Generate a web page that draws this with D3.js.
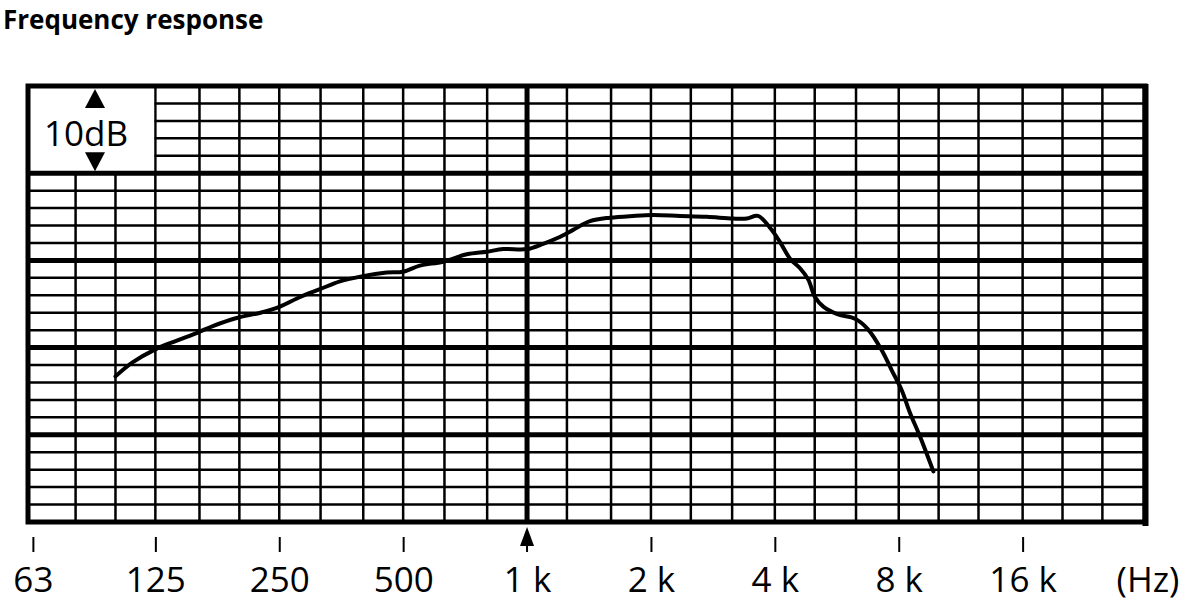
<!DOCTYPE html>
<html>
<head>
<meta charset="utf-8">
<script src="https://cdn.jsdelivr.net/npm/d3@7"></script>
<style>
  body { margin: 0; background: #fff; }
  svg { display: block; }
  text { font-family: "Open Sans", sans-serif; fill: #000; }
</style>
</head>
<body>
<div id="chart"></div>
<script>
// response curve (Hz / dB)
var freqs = [100, 110, 125, 141, 158, 173, 197, 225, 251, 281, 314, 351, 399, 456, 500,
  549, 625, 714, 798, 876, 1000, 1094, 1189, 1294, 1422, 1591, 1810, 2024, 2353, 2733,
  3166, 3418, 3641, 3915, 4118, 4355, 4606, 4824, 5008, 5246, 5696, 6264, 6737, 7275,
  7694, 8135, 8522, 9012, 9710];
var levels = [-13.3, -11.7, -10.2, -9.2, -8.3, -7.5, -6.6, -6.0, -5.3, -4.2, -3.3, -2.4, -1.8, -1.4, -1.3,
  -0.6, -0.15, 0.7, 1.0, 1.3, 1.3, 1.9, 2.6, 3.5, 4.5, 4.9, 5.1, 5.2, 5.1, 5.0,
  4.8, 4.8, 5.1, 3.6, 2.1, 0.2, -0.9, -2.2, -4.2, -5.3, -6.2, -6.7, -7.9, -10.3,
  -12.6, -14.9, -17.5, -20.2, -24.2];

// third-octave grid lines and labelled octave ticks
var thirdOctaves = [80, 100, 125, 160, 200, 250, 315, 400, 500, 630, 800, 1000, 1250, 1600,
  2000, 2500, 3150, 4000, 5000, 6300, 8000, 10000, 12500, 16000, 20000, 25000];
var tickFreqs = [63, 125, 250, 500, 1000, 2000, 4000, 8000, 16000];
var tickLabels = ["63", "125", "250", "500", "1 k", "2 k", "4 k", "8 k", "16 k"];
var dbLines = [-30, -28, -26, -24, -22, -20, -18, -16, -14, -12, -10, -8, -6, -4, -2,
  0, 2, 4, 6, 8, 10, 12, 14, 16, 18, 20];
var dbMajor = [-20, -10, 0, 10];

var svgWidth = 1195;
var svgHeight = 606;
var plot = { left: 28, right: 1145, top: 86, bottom: 522 };

var svg = d3.select("#chart").append("svg")
  .attr("width", svgWidth)
  .attr("height", svgHeight);

var x = d3.scaleLog().domain([61.3, 31730]).range([plot.left, plot.right]);
var y = d3.scaleLinear().domain([-30, 20]).range([plot.bottom, plot.top]);

svg.append("text")
  .attr("x", 3)
  .attr("y", 29)
  .style("font-size", "26px")
  .style("font-weight", "bold")
  .text("Frequency response");

var grid = svg.append("g");

// thin grid
grid.selectAll(".vthin")
  .data(thirdOctaves.filter(f => f !== 1000))
  .enter().append("line")
  .attr("x1", d => x(d)).attr("x2", d => x(d))
  .attr("y1", plot.top).attr("y2", plot.bottom)
  .attr("stroke", "#000").attr("stroke-width", 2.5);

grid.selectAll(".hthin")
  .data(dbLines.filter(d => d % 10 !== 0))
  .enter().append("line")
  .attr("x1", plot.left).attr("x2", plot.right)
  .attr("y1", d => y(d)).attr("y2", d => y(d))
  .attr("stroke", "#000").attr("stroke-width", 2.5);

// blank corner holding the scale note
grid.append("rect")
  .attr("x", plot.left)
  .attr("y", plot.top)
  .attr("width", x(125) - plot.left - 1.2)
  .attr("height", y(10) - plot.top)
  .attr("fill", "#fff");

// thick grid
grid.selectAll(".hthick")
  .data(dbMajor)
  .enter().append("line")
  .attr("x1", plot.left).attr("x2", plot.right)
  .attr("y1", d => y(d)).attr("y2", d => y(d))
  .attr("stroke", "#000").attr("stroke-width", 5);

grid.append("line")
  .attr("x1", x(1000)).attr("x2", x(1000))
  .attr("y1", plot.top).attr("y2", plot.bottom)
  .attr("stroke", "#000").attr("stroke-width", 5);

grid.append("rect")
  .attr("x", plot.left).attr("y", plot.top)
  .attr("width", plot.right - plot.left)
  .attr("height", plot.bottom - plot.top)
  .attr("fill", "none")
  .attr("stroke", "#000").attr("stroke-width", 5);

grid.append("line")
  .attr("x1", plot.right + 0.5).attr("x2", plot.right + 0.5)
  .attr("y1", plot.top - 2).attr("y2", plot.bottom + 4)
  .attr("stroke", "#000").attr("stroke-width", 6);

// 10 dB scale note
var noteX = 95;
svg.append("text")
  .attr("x", 86)
  .attr("y", y(15) + 16)
  .attr("text-anchor", "middle")
  .style("font-size", "35px")
  .text("10dB");

svg.append("path")
  .attr("d", `M${noteX},${plot.top + 3} l-10,19 l20,0 Z`)
  .attr("fill", "#000");
svg.append("path")
  .attr("d", `M${noteX},${y(10) - 2} l-10,-19 l20,0 Z`)
  .attr("fill", "#000");

// response curve
var pts = freqs.map((f, i) => [f, levels[i]]);
var line = d3.line()
  .x(d => x(d[0]))
  .y(d => y(d[1]))
  .curve(d3.curveCatmullRom.alpha(0.5));

svg.append("path")
  .datum(pts)
  .attr("d", line)
  .attr("fill", "none")
  .attr("stroke", "#000")
  .attr("stroke-width", 4)
  .attr("stroke-linejoin", "round")
  .attr("stroke-linecap", "round");

// frequency axis
var xAxis = d3.axisBottom(x)
  .tickValues(tickFreqs)
  .tickFormat((d, i) => tickLabels[i])
  .tickSize(15)
  .tickPadding(15);

var axisG = svg.append("g")
  .attr("transform", `translate(0, 537)`)
  .call(xAxis);

axisG.select(".domain").remove();
axisG.selectAll(".tick line").attr("stroke", "#000").attr("stroke-width", 2);
axisG.selectAll(".tick text")
  .style("font-size", "35px")
  .style("font-family", "'Open Sans', sans-serif")
  .attr("fill", "#000");

// 1 kHz reference arrow instead of the plain tick
axisG.selectAll(".tick").filter(d => d === 1000).select("line").remove();
axisG.append("path")
  .attr("d", `M${x(1000)},${-10} l-7,19 l14,0 Z`)
  .attr("fill", "#000");
axisG.append("line")
  .attr("x1", x(1000)).attr("x2", x(1000))
  .attr("y1", 6).attr("y2", 15)
  .attr("stroke", "#000").attr("stroke-width", 2);

svg.append("text")
  .attr("x", x(31730) + 3)
  .attr("y", 592)
  .attr("text-anchor", "middle")
  .style("font-size", "35px")
  .text("(Hz)");
</script>
</body>
</html>
